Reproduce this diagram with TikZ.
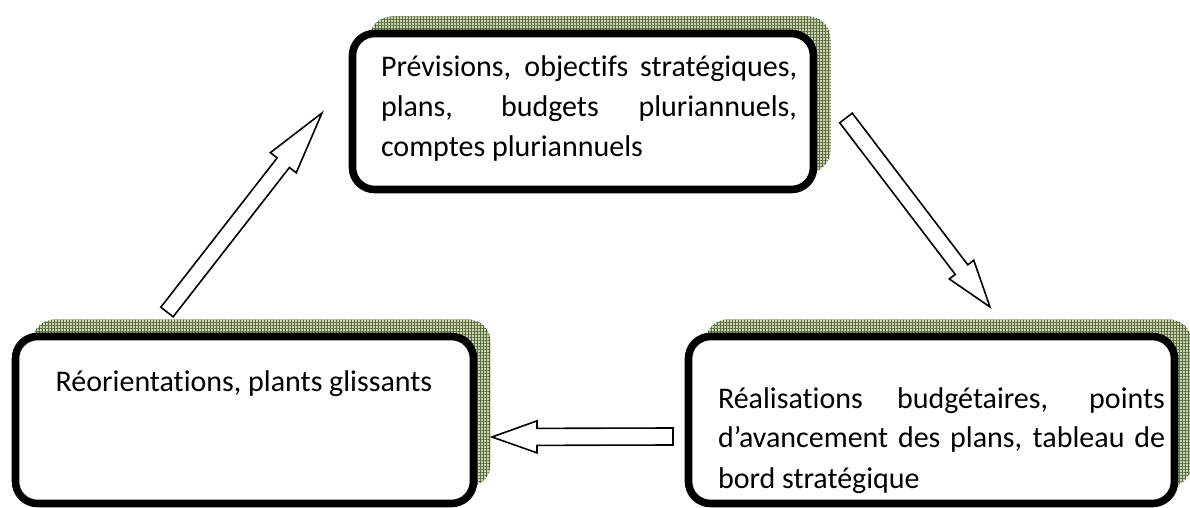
\documentclass[tikz,border=0pt]{standalone}
\usepackage{fontspec}
\setmainfont{Carlito}[Ligatures=NoCommon]
\usetikzlibrary{calc,shadows,patterns.meta}
\definecolor{ShadowFill}{HTML}{CBD5B2}
\definecolor{ShadowGrid}{HTML}{5B6B40}

\tikzset{
  % hollow block arrow: shaft half width, head half width, head length
  hollow/.style n args={3}{to path={
    ($(\tikztostart)!#1!90:(\tikztotarget)$)
    -- ($($(\tikztotarget)!#3!(\tikztostart)$)!#1!90:(\tikztotarget)$)
    -- ($($(\tikztotarget)!#3!(\tikztostart)$)!#2!90:(\tikztotarget)$)
    -- (\tikztotarget)
    -- ($($(\tikztotarget)!#3!(\tikztostart)$)!#2!-90:(\tikztotarget)$)
    -- ($($(\tikztotarget)!#3!(\tikztostart)$)!#1!-90:(\tikztotarget)$)
    -- ($(\tikztostart)!#1!-90:(\tikztotarget)$) -- cycle}}
}

\begin{document}
\begin{tikzpicture}[x=0.5pt,y=-0.5pt,
  every node/.style={inner sep=0pt,outer sep=0pt},
  card/.style={draw=black,line width=3.8pt,rounded corners=11pt,fill=white,
    general shadow={shadow xshift=8.5pt,shadow yshift=8.5pt,fill=ShadowFill},
    general shadow={shadow xshift=8.5pt,shadow yshift=8.5pt,pattern color=ShadowGrid,
      pattern={Lines[angle=0,distance=1.5pt,line width=0.3pt]}},
    general shadow={shadow xshift=8.5pt,shadow yshift=8.5pt,pattern color=ShadowGrid,
      pattern={Lines[angle=90,distance=1.5pt,line width=0.3pt]}}},
  txt/.style={font=\fontsize{15pt}{20pt}\selectfont},
  arr/.style={draw=black,fill=white,line width=0.8pt,line join=miter}
]
\path[use as bounding box,fill=white] (0,0) rectangle (1190,508);

% the three boxes
\node[card,minimum width=230.5pt,minimum height=78pt] (plans) at (583,111.5) {};
\node[card,minimum width=229pt,minimum height=83.5pt] (reorient) at (244.5,420) {};
\node[card,minimum width=243pt,minimum height=83.5pt] (realis) at (931.5,420) {};

\node[txt,align=justify,text width=208pt,anchor=base west] (plansText) at (381,77)
  {Prévisions, objectifs stratégiques,\linebreak plans, budgets pluriannuels,\linebreak comptes pluriannuels};
\node[txt,anchor=base] (reorientText) at (244,391) {Réorientations, plants glissants};
\node[txt,align=justify,text width=223.5pt,anchor=base west] (realisText) at (718,408)
  {Réalisations budgétaires, points\linebreak d’avancement des plans, tableau de\linebreak bord stratégique};

% arrows
\coordinate (upTail) at (167,312);
\coordinate (upTip) at (322,113);
\coordinate (downTail) at (846,118);
\coordinate (downTip) at (990,307);
\coordinate (backTail) at (673,436.5);
\coordinate (backTip) at (492,437);
\draw[arr] (upTail) to[hollow={3.9pt}{8.2pt}{31.5pt}] (upTip);
\draw[arr] (downTail) to[hollow={3.95pt}{7.7pt}{23.5pt}] (downTip);
\draw[arr] (backTail) to[hollow={4.25pt}{8pt}{22.5pt}] (backTip);
\end{tikzpicture}
\end{document}
